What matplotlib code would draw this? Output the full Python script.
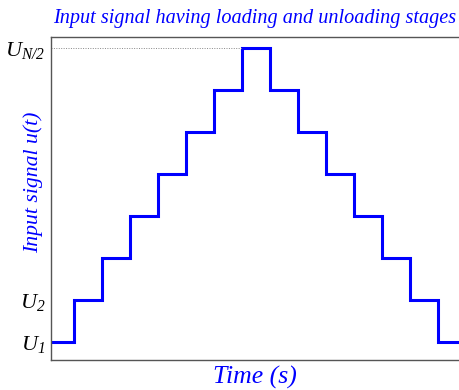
import matplotlib
matplotlib.use("Agg")
import matplotlib.pyplot as plt
import numpy as np

plt.rcParams['mathtext.fontset'] = 'custom'
plt.rcParams['mathtext.it'] = 'Liberation Serif:italic'
plt.rcParams['mathtext.rm'] = 'Liberation Serif:italic'
plt.rcParams['font.family'] = 'Liberation Serif'

# Staircase input: loading up to the peak level, then unloading back down
edges = [0, 1, 2, 3, 4, 5, 6, 7, 8, 9, 10, 11, 12, 13, 14, 15]
levels = [1, 2, 3, 4, 5, 6, 7, 8, 7, 6, 5, 4, 3, 2, 1]
tick_levels = [1, 2, 8]
tick_labels = [r'$U_1$', r'$U_2$', r'$U_{N/2}$']
peak_start = 7

fig = plt.figure(figsize=(4.6, 3.9), dpi=100)
ax = fig.add_axes([51/460, 30/390, 418/460, 323/390])

x = np.array(edges, dtype=float)
y = np.array(levels + [levels[-1]], dtype=float)
ax.step(x, y, where='post', color='#0000ff', lw=2.2, solid_joinstyle='miter')

ax.set_xlim(0.18, 15.1)
ax.set_ylim(0.571, 8.26)

ax.plot([0.18, peak_start], [tick_levels[-1]] * 2, ls=(0, (1, 1.5)), color='#888888', lw=0.7)

ax.set_xticks([])
ax.set_yticks(tick_levels)
ax.set_yticklabels(tick_labels, fontsize=16)
ax.tick_params(axis='y', length=0, pad=4)

for s in ax.spines.values():
    s.set_color('#555555')
    s.set_linewidth(1.0)

ax.set_ylabel('Input signal u(t)', fontsize=15.7, style='italic', color='#0000ff')
ax.yaxis.label.set_va('center')
ax.yaxis.set_label_coords(-0.043, 0.551)
fig.text(255/460, 1 - 18/390, 'Input signal having loading and unloading stages',
         ha='center', va='center', fontsize=14.6, style='italic', color='#0000ff')
fig.text(255/460, 1 - 377/390, 'Time (s)', ha='center', va='center',
         fontsize=18.5, style='italic', color='#0000ff')

fig.savefig('out.png', dpi=100)
